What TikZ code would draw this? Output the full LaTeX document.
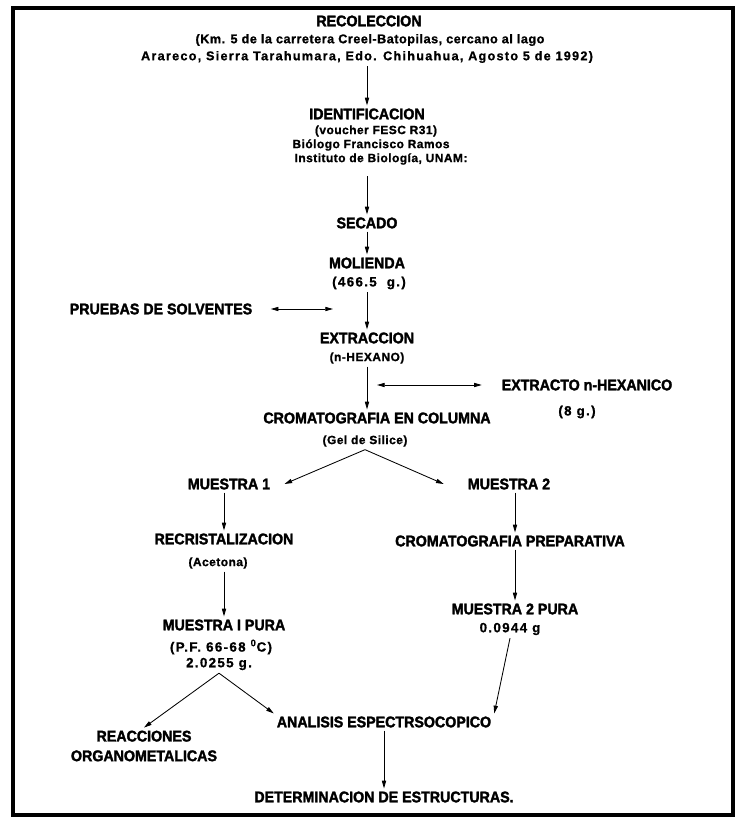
\documentclass[tikz,border=0pt]{standalone}
\usepackage{fontspec}
\usetikzlibrary{arrows.meta}
\newfontfamily\headfont[FakeStretch=0.92,FakeBold=2]{Liberation Sans}
\newfontfamily\notefont[LetterSpace=4,FakeBold=1]{Liberation Sans}
\newfontfamily\qtyfont[LetterSpace=10,FakeBold=1]{Liberation Sans}

\begin{document}
\begin{tikzpicture}[
  x=0.025cm, y=-0.025cm,
  head/.style={inner sep=2pt, align=center,
               font=\headfont\bfseries\fontsize{11}{14}\selectfont},
  note/.style={inner sep=2pt, font=\notefont\bfseries\fontsize{8.5}{10}\selectfont},
  qty/.style={inner sep=2pt, font=\qtyfont\bfseries\fontsize{9.5}{11}\selectfont},
  site/.style={inner sep=2pt, font=\notefont\bfseries\fontsize{9}{11}\selectfont},
  ar/.style={-{Triangle[length=5.5pt,width=3pt]}, line width=0.6pt},
  dar/.style={{Triangle[length=5.5pt,width=3pt]}-{Triangle[length=5.5pt,width=3pt]},
              line width=0.6pt},
]
\useasboundingbox (0,0) rectangle (739,826);
\draw[line width=2.8pt] (13,8) rectangle (733,815);

\node[head] (recol) at (369,21) {RECOLECCION};
\node[site] (siteA) at (370,40) {(Km. 5 de la carretera Creel-Batopilas, cercano al lago};
\node[site] (siteB) at (367,57) {\addfontfeature{LetterSpace=10}Arareco, Sierra Tarahumara, Edo. Chihuahua, Agosto 5 de 1992)};
\node[head] (ident) at (367,114) {IDENTIFICACION};
\node[note] (vouch) at (376,131) {(voucher FESC R31)};
\node[note] (biol) at (371,145) {Biólogo Francisco Ramos};
\node[note] (inst) at (381,159) {Instituto de Biología, UNAM:};
\node[head] (sec) at (367,223) {SECADO};
\node[head] (mol) at (367,263) {MOLIENDA};
\node[qty] (molw) at (369,283) {(466.5 \ g.)};
\node[head] (prueb) at (161,309) {PRUEBAS DE SOLVENTES};
\coordinate (solv) at (333,309);
\node[head] (extr) at (367,338) {EXTRACCION};
\node[note] (hex) at (367,358) {(n-HEXANO)};
\coordinate (hexa) at (377,385);
\node[head] (exhex) at (587,385) {EXTRACTO n-HEXANICO};
\node[qty] (exw) at (577,412) {(8 g.)};
\node[head] (ccol) at (377,418) {CROMATOGRAFIA EN COLUMNA};
\node[note] (gel) at (365,441) {(Gel de Silice)};
\node[head] (m1) at (229,484) {MUESTRA 1};
\node[head] (m2) at (509,484) {MUESTRA 2};
\node[head] (recr) at (224,539) {RECRISTALIZACION};
\node[note] (acet) at (218,563) {(Acetona)};
\node[head] (cprep) at (510,541) {CROMATOGRAFIA PREPARATIVA};
\node[head] (p1) at (224,625) {MUESTRA I PURA};
\node[qty] (pf) at (221,647) {(P.F. 66-68 \textsuperscript{0}C)};
\node[qty] (w1) at (219,664) {2.0255 g.};
\node[head] (p2) at (515,609) {MUESTRA 2 PURA};
\node[qty] (w2) at (510,629) {0.0944 g};
\node[head] (anal) at (384,722) {ANALISIS ESPECTRSOCOPICO};
\node[head] (reac) at (144,746) {REACCIONES\\ORGANOMETALICAS};
\node[head] (det) at (384,797) {DETERMINACION DE ESTRUCTURAS.};

\draw[ar] (siteB) -- (ident);
\draw[ar, shorten <=6pt] (inst.south -| sec) -- (sec);
\draw[ar] (sec) -- (mol);
\draw[ar] (molw.south -| extr) -- (extr);
\draw[dar, shorten <=11pt] (prueb.east) -- (solv);
\draw[ar] (hex) -- (hex |- ccol.north);
\draw[dar, shorten >=12pt] (hexa) -- (exhex.west);
\draw[ar] (gel.south) -- ([xshift=8pt]m1.east);
\draw[ar] (gel.south) -- ([xshift=-15pt]m2.west);
\draw[ar] (m1.south -| recr) -- (recr);
\draw[ar] (acet.south -| p1) -- (p1);
\draw[ar] (m2.south -| p2) -- (cprep.north -| p2);
\draw[ar] (cprep.south -| p2) -- (p2);
\draw[ar] (w1.south) -- (reac.north);
\draw[ar] (w1.south) -- (anal.north west);
\draw[ar] (w2.south) -- (anal.north east);
\draw[ar] (anal) -- (det);
\end{tikzpicture}
\end{document}
